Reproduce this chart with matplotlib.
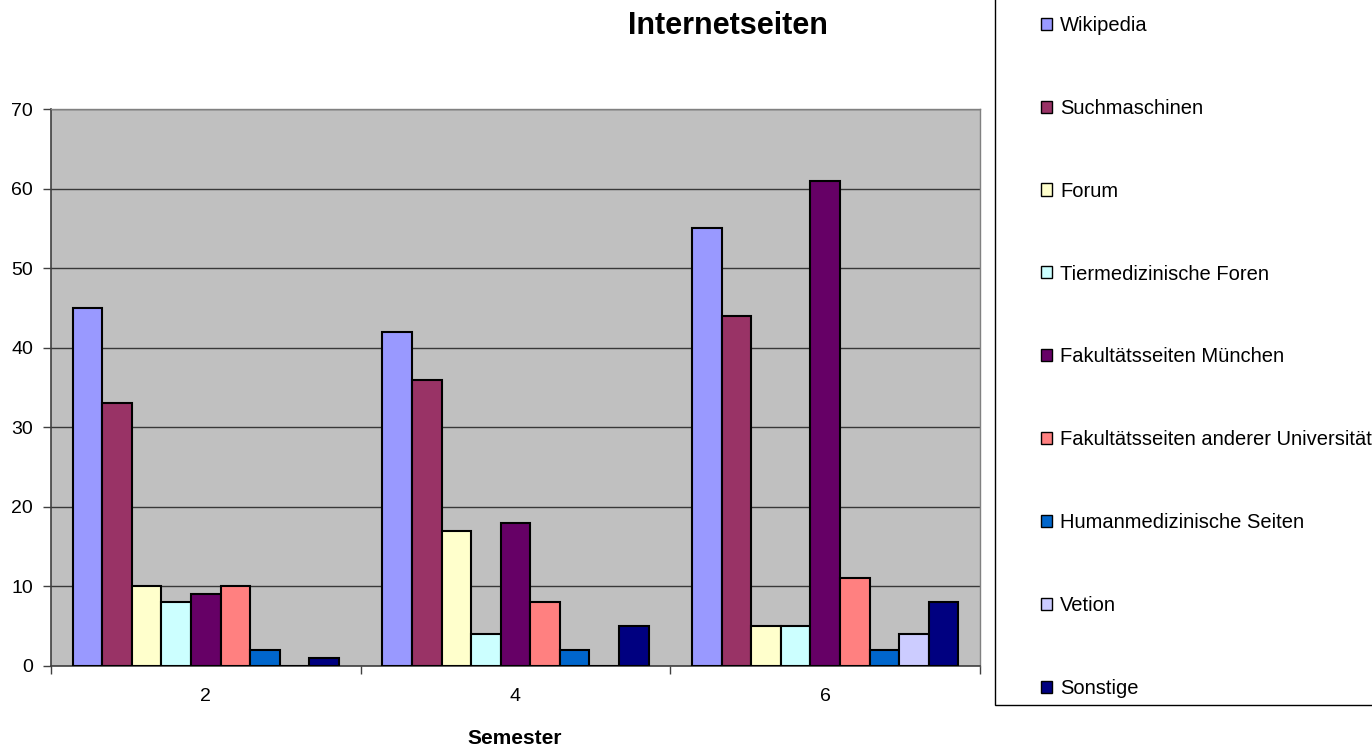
import matplotlib.pyplot as plt
from matplotlib.patches import Patch, Rectangle

plt.rcParams['font.family'] = ['Liberation Sans', 'DejaVu Sans']

semester = ['2', '4', '6']
quellen = ['Wikipedia', 'Suchmaschinen', 'Forum', 'Tiermedizinische Foren',
           'Fakultätsseiten München', 'Fakultätsseiten anderer Universitäten',
           'Humanmedizinische Seiten', 'Vetion', 'Sonstige']
werte = [
    [45, 42, 55],   # Wikipedia
    [33, 36, 44],   # Suchmaschinen
    [10, 17, 5],    # Forum
    [8, 4, 5],      # Tiermedizinische Foren
    [9, 18, 61],    # Fakultätsseiten München
    [10, 8, 11],    # Fakultätsseiten anderer Universitäten
    [2, 2, 2],      # Humanmedizinische Seiten
    [0, 0, 4],      # Vetion
    [1, 5, 8],      # Sonstige
]
farben = ['#9999FF', '#993366', '#FFFFCC', '#CCFFFF', '#660066',
          '#FF8080', '#0066CC', '#CCCCFF', '#000080']

W, H = 1372, 749
fig = plt.figure(figsize=(W / 100, H / 100), dpi=100)
ax = fig.add_axes([51 / W, (H - 666) / H, 929 / W, 557 / H])
ax.set_facecolor('#C0C0C0')

n = len(quellen)
breite = 0.86 / n
for i, (name, vals, c) in enumerate(zip(quellen, werte, farben)):
    xs = [k - 0.43 + breite * (i + 0.5) for k in range(len(semester))]
    ax.bar(xs, vals, width=breite, color=c, edgecolor='black',
           linewidth=1.5, label=name, zorder=3)

ax.set_ylim(0, 70)
ax.set_yticks(range(0, 71, 10))
ax.yaxis.grid(True, color='#383838', linewidth=1, zorder=1)
ax.set_xlim(-0.5, len(semester) - 0.5)

# tick marks between the groups, labels at the group centres
ax.set_xticks([k - 0.5 for k in range(len(semester) + 1)])
ax.set_xticklabels([])
ax.set_xticks(range(len(semester)), minor=True)
ax.set_xticklabels(semester, minor=True)
ax.tick_params(axis='x', which='major', length=6, width=1, color='#404040', direction='out')
ax.tick_params(axis='x', which='minor', length=0, pad=16, labelsize=14)
ax.tick_params(axis='y', length=6, width=1, color='#404040', direction='out',
               labelsize=14, pad=7)

for s in ['left', 'bottom']:
    ax.spines[s].set_color('#404040')
    ax.spines[s].set_linewidth(1.2)
for s in ['top', 'right']:
    ax.spines[s].set_color('#808080')
    ax.spines[s].set_linewidth(1)

fig.text(515 / W, 1 - 738 / H, 'Semester', fontsize=15, fontweight='bold',
         ha='center', va='center')
fig.text(728 / W, 1 - 26 / H, 'Internetseiten', fontsize=22,
         fontweight='bold', ha='center', va='center')

# legend box runs past the right and top edge of the figure
fig.patches.append(Rectangle((995 / W, (H - 705) / H), 0.5, 1.0,
                             transform=fig.transFigure, facecolor='white',
                             edgecolor='black', linewidth=1, zorder=0))
handles = [Patch(facecolor=c, edgecolor='black', linewidth=1) for c in farben]
leg = fig.legend(handles, quellen, loc='upper left',
                 bbox_to_anchor=(1041 / W, 1 - 16 / H), fontsize=14.5,
                 frameon=False, labelspacing=3.17,
                 handlelength=0.55, handleheight=0.55, handletextpad=0.4,
                 borderpad=0, borderaxespad=0)

fig.savefig('out.png', dpi=100)
